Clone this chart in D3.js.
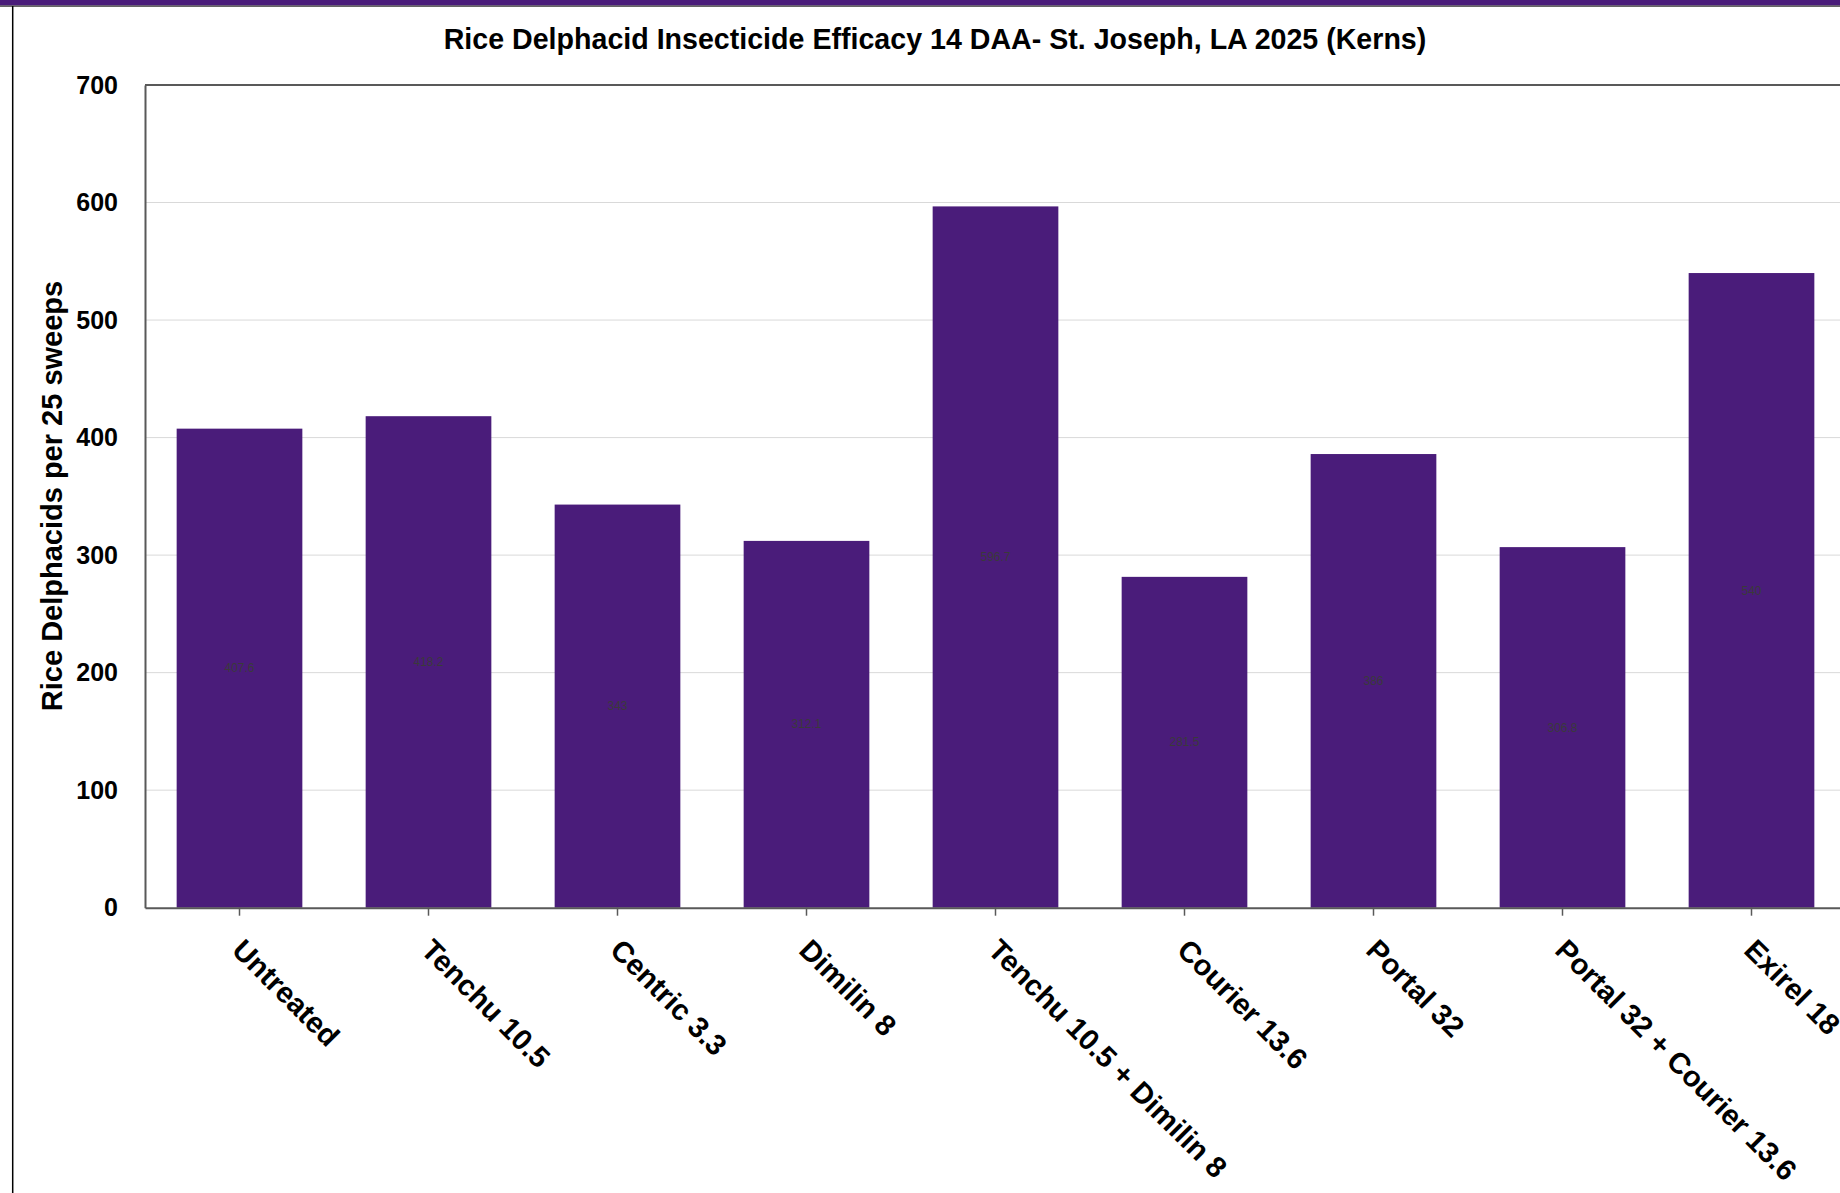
<!DOCTYPE html>
<html>
<head>
<meta charset="utf-8">
<script src="https://cdn.jsdelivr.net/npm/d3@7"></script>
<style>
  html, body { margin: 0; padding: 0; background: #ffffff; overflow: hidden; }
  svg { display: block; }
  text { font-family: "Liberation Sans", Arial, sans-serif; }
</style>
</head>
<body>
<script>
const categories = ["Untreated", "Tenchu 10.5", "Centric 3.3", "Dimilin 8", "Tenchu 10.5 + Dimilin 8", "Courier 13.6", "Portal 32", "Portal 32 + Courier 13.6", "Exirel 18"];
const values = [407.6, 418.2, 343, 312.1, 596.7, 281.5, 386, 306.8, 540];
const valueLabels = ["407.6", "418.2", "343", "312.1", "596.7", "281.5", "386", "306.8", "540"];
const yTicks = [0, 100, 200, 300, 400, 500, 600, 700];
const titleText = "Rice Delphacid Insecticide Efficacy 14 DAA- St. Joseph, LA 2025 (Kerns)";
const yTitle = "Rice Delphacids per 25 sweeps";

const W = 1840, H = 1193;
const plot = { left: 145, top: 85, bottom: 907.7, right: 1846 };
const barColor = "#4A1C7A";

const svg = d3.select("body").append("svg").attr("width", W).attr("height", H);

// frame decorations
svg.append("rect").attr("x", 0).attr("y", 0).attr("width", W).attr("height", 5.5).attr("fill", barColor);
svg.append("line").attr("x1", 0).attr("x2", W).attr("y1", 6.2).attr("y2", 6.2).attr("stroke", "#333").attr("stroke-width", 1.3);
svg.append("line").attr("x1", 12.7).attr("x2", 12.7).attr("y1", 6).attr("y2", H).attr("stroke", "#000").attr("stroke-width", 1.5);

const x = d3.scaleBand().domain(categories).range([plot.left, plot.right]).paddingInner(0.335).paddingOuter(0.1675);
const y = d3.scaleLinear().domain([0, 700]).range([plot.bottom, plot.top]);

// gridlines
svg.append("g").selectAll("line").data(yTicks.filter(d => d > 0)).join("line")
  .attr("x1", plot.left).attr("x2", W)
  .attr("y1", d => y(d)).attr("y2", d => y(d))
  .attr("stroke", "#d9d9d9").attr("stroke-width", 1);

// bars
svg.append("g").selectAll("rect").data(values).join("rect")
  .attr("x", (d, i) => x(categories[i]))
  .attr("y", d => y(d))
  .attr("width", x.bandwidth())
  .attr("height", d => y(0) - y(d))
  .attr("fill", barColor);

// value labels (tiny, centered in bar)
svg.append("g").selectAll("text").data(values).join("text")
  .attr("x", (d, i) => x(categories[i]) + x.bandwidth() / 2)
  .attr("y", d => (y(d) + y(0)) / 2)
  .attr("dy", "0.35em")
  .attr("text-anchor", "middle")
  .attr("font-size", 12)
  .attr("fill", "#3a3a3a")
  .text((d, i) => valueLabels[i]);

// plot border top
svg.append("line").attr("x1", plot.left).attr("x2", W).attr("y1", plot.top).attr("y2", plot.top)
  .attr("stroke", "#595959").attr("stroke-width", 2);

// y axis
const yAxis = svg.append("g").attr("transform", `translate(${plot.left},0)`)
  .call(d3.axisLeft(y).tickValues(yTicks).tickSize(0).tickPadding(27).tickFormat(d3.format("d")));
yAxis.select(".domain").attr("stroke", "#595959").attr("stroke-width", 2);
yAxis.selectAll("text").attr("font-size", 25).attr("font-weight", "bold").attr("fill", "#000")
  .attr("font-family", "'Liberation Sans', Arial, sans-serif");

// x axis
const xAxis = svg.append("g").attr("transform", `translate(0,${plot.bottom})`)
  .call(d3.axisBottom(x).tickSize(8).tickSizeOuter(0));
xAxis.select(".domain").attr("stroke", "#595959").attr("stroke-width", 2);
xAxis.selectAll(".tick line").attr("stroke", "#595959").attr("stroke-width", 1.5);
xAxis.selectAll("text")
  .attr("font-size", 29.3).attr("font-weight", "bold").attr("fill", "#000")
  .attr("font-family", "'Liberation Sans', Arial, sans-serif")
  .attr("text-anchor", "start")
  .attr("x", 0).attr("y", 0).attr("dy", "0.72em")
  .attr("transform", "translate(6,29) rotate(45)");

// title
svg.append("text").attr("x", 935).attr("y", 49)
  .attr("text-anchor", "middle").attr("font-size", 28.6).attr("font-weight", "bold").attr("fill", "#000")
  .text(titleText);

// y title
svg.append("text")
  .attr("transform", `translate(62,496) rotate(-90)`)
  .attr("text-anchor", "middle").attr("font-size", 29).attr("font-weight", "bold").attr("fill", "#000")
  .text(yTitle);
</script>
</body>
</html>
